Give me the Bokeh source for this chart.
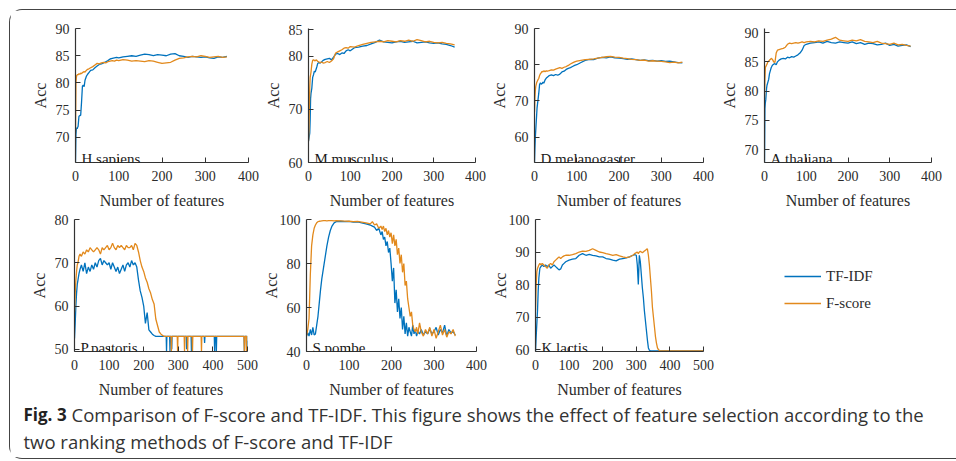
from bokeh.plotting import figure
from bokeh.layouts import row, column
from bokeh.models import Range1d, FixedTicker, Legend, LegendItem, Label
from bokeh.embed import file_html
from bokeh.resources import INLINE

BLUE = "#0072BD"
ORANGE = "#E2891C"
SERIF = "Liberation Serif"
TXT = "#2b2b2b"

# ---------------- data ----------------
grid350 = [0, 1, 2, 3, 4, 5, 6, 8, 10, 12,
           14, 16, 18, 20, 22, 25, 28, 31, 35, 40,
           45, 50, 55, 60, 65, 70, 75, 80, 85, 90,
           95, 100, 110, 120, 130, 140, 150, 160, 170, 180,
           190, 200, 210, 220, 230, 240, 250, 260, 270, 280,
           290, 300, 310, 320, 330, 340, 350]

hs_tfidf = [65.5, 70.5, 71.5, 71.8, 71.6, 71.9, 72.0, 73.9, 74.0, 74.1,
            76.5, 79.4, 79.6, 79.3, 80.5, 81.2, 81.6, 81.9, 82.3, 82.4,
            82.8, 83.1, 83.4, 83.5, 83.7, 83.9, 84.1, 84.4, 84.5, 84.6,
            84.7, 84.6, 84.8, 84.9, 85.0, 84.9, 85.1, 85.3, 85.2, 85.0,
            85.2, 85.1, 85.0, 85.3, 85.4, 85.0, 84.9, 84.7, 84.9, 84.8,
            84.7, 84.8, 84.6, 84.5, 84.8, 84.7, 84.9]
hs_fscore = [71.0, 80.0, 81.0, 81.5, 81.4, 81.6, 81.5, 81.7, 81.6, 81.8,
             81.7, 81.9, 82.0, 82.1, 82.0, 82.3, 82.5, 82.6, 82.8, 83.0,
             83.3, 83.6, 83.5, 83.7, 83.8, 83.7, 83.9, 84.0, 84.1, 84.0,
             84.2, 84.1, 84.3, 84.2, 84.0, 84.1, 84.0, 83.9, 84.1, 84.0,
             83.8, 83.6, 83.7, 83.8, 84.2, 84.5, 84.6, 84.8, 84.9, 84.8,
             85.0, 84.9, 84.7, 84.8, 84.9, 84.7, 84.8]

mm_tfidf = [64.0, 64.5, 65.0, 65.5, 68.0, 72.0, 73.0, 74.0, 76.0, 76.5,
            77.2, 77.0, 77.5, 78.0, 78.6, 78.8, 78.7, 78.9, 79.2, 79.4,
            79.5, 79.6, 79.3, 79.8, 80.4, 80.5, 80.3, 80.6, 80.5, 81.0,
            81.2, 81.0, 81.6, 81.7, 81.9, 82.0, 82.3, 82.6, 83.0, 82.7,
            82.6, 82.5, 82.7, 82.8, 82.6, 82.7, 82.8, 82.5, 82.6, 82.7,
            82.5, 82.4, 82.5, 82.3, 82.2, 82.0, 81.7]
mm_fscore = [64.0, 66.0, 70.0, 74.0, 76.0, 76.5, 77.0, 78.5, 79.2, 79.3,
             79.2, 79.1, 79.3, 79.2, 79.0, 78.9, 78.8, 78.9, 78.7, 78.8,
             79.0, 78.8, 79.1, 79.5, 80.6, 80.8, 81.0, 81.2, 81.5, 81.6,
             81.5, 81.8, 81.7, 82.0, 82.2, 82.4, 82.6, 82.7, 82.8, 82.7,
             82.9, 82.8, 82.7, 82.9, 82.8, 83.0, 82.8, 83.1, 82.9, 82.7,
             82.8, 82.6, 82.5, 82.6, 82.4, 82.3, 82.1]

dm_tfidf = [53.0, 57.0, 60.0, 62.0, 64.0, 66.0, 68.0, 70.0, 72.0, 74.5,
            75.0, 74.6, 74.8, 75.2, 74.9, 75.8, 76.3, 76.6, 77.0, 77.2,
            77.0, 77.3, 77.1, 77.4, 78.0, 78.2, 78.7, 79.0, 79.2, 79.5,
            79.8, 80.0, 80.6, 81.2, 81.5, 81.4, 81.8, 82.0, 81.9, 82.2,
            81.9, 81.8, 81.7, 81.5, 81.6, 81.4, 81.2, 81.3, 81.1, 81.2,
            81.0, 81.1, 80.9, 81.0, 80.8, 80.6, 80.5]
dm_fscore = [67.0, 71.0, 73.0, 74.0, 74.5, 75.0, 75.3, 75.8, 76.2, 77.0,
             77.5, 77.8, 78.2, 78.0, 78.3, 78.1, 78.3, 78.2, 78.4, 78.6,
             78.5, 78.8, 79.0, 79.2, 79.0, 79.3, 79.5, 79.8, 80.2, 80.5,
             80.8, 81.0, 81.2, 81.4, 81.5, 81.6, 81.8, 82.0, 82.2, 82.3,
             82.1, 82.0, 81.8, 81.7, 81.5, 81.4, 81.2, 81.3, 81.0, 81.1,
             81.0, 80.9, 80.8, 80.6, 80.7, 80.5, 80.7]

at_tfidf = [67.8, 77.0, 78.0, 78.5, 79.5, 80.5, 81.0, 81.5, 82.0, 83.0,
            83.5, 84.0, 84.3, 84.5, 84.6, 84.7, 84.5, 85.0, 85.3, 85.5,
            85.6, 85.5, 85.8, 85.7, 85.9, 85.8, 86.0, 86.2, 86.5, 87.0,
            87.8, 88.0, 88.2, 88.3, 88.4, 88.2, 88.5, 88.3, 88.2, 88.4,
            88.3, 88.2, 88.4, 88.1, 88.3, 88.0, 88.2, 88.1, 87.9, 88.0,
            88.2, 87.8, 88.0, 87.7, 87.8, 87.9, 87.6]
at_fscore = [79.0, 82.0, 84.0, 84.2, 84.3, 84.5, 84.6, 85.0, 85.1, 85.3,
             85.4, 85.6, 85.5, 85.3, 85.0, 84.9, 86.5, 87.0, 87.1, 87.2,
             87.3, 87.5, 88.0, 88.2, 88.1, 88.2, 88.3, 88.2, 88.3, 88.4,
             88.3, 88.4, 88.5, 88.4, 88.6, 88.5, 88.7, 88.9, 89.2, 88.7,
             88.6, 88.5, 88.7, 88.6, 88.8, 88.5, 88.4, 88.3, 88.5, 88.2,
             88.1, 88.0, 88.2, 87.9, 88.0, 87.8, 87.7]

# P.pastoris (up to 500 features)
pp_grid = [0, 2, 4, 6, 8, 10, 13, 16, 20, 25,
           30, 35, 40, 45, 50, 55, 60, 65, 70, 75,
           80, 85, 90, 95, 100, 105, 110, 115, 120, 125,
           130, 135, 140, 145, 150, 155, 160, 165, 170, 175,
           180, 185, 190, 195, 200, 205, 210, 215, 220, 225,
           230, 235, 240, 245, 250, 255, 260]
pp_tfidf_head = [52.5, 56.0, 60.0, 63.0, 65.0, 66.0, 67.5, 68.5, 69.5, 68.0,
                 70.0, 67.5, 69.0, 68.0, 69.5, 68.5, 70.0, 69.0, 70.5, 71.0,
                 69.5, 70.5, 70.0, 69.5, 70.0, 68.5, 70.0, 69.0, 68.0, 69.0,
                 67.5, 68.5, 69.5, 68.0, 69.5, 70.0, 69.0, 70.5, 69.5, 70.0,
                 69.0, 66.0, 63.5, 62.0, 60.0, 56.0, 58.5, 54.5, 54.0, 53.5,
                 53.2, 53.0, 53.0, 53.0, 53.0, 53.0, 53.0]
pp_fscore_head = [58.5, 63.0, 66.0, 68.0, 69.5, 70.0, 71.5, 72.0, 71.5, 72.5,
                  72.0, 73.0, 72.5, 73.5, 73.0, 72.5, 73.0, 73.5, 73.0, 72.0,
                  73.5, 73.0, 73.5, 74.0, 73.0, 73.5, 74.5, 73.5, 73.0, 74.0,
                  73.5, 74.0, 73.5, 73.0, 74.0, 73.5, 73.5, 74.0, 73.0, 74.5,
                  74.0, 72.5, 70.5, 69.0, 68.0, 66.5, 65.5, 64.0, 63.0, 61.5,
                  60.5, 57.0, 55.5, 54.0, 53.5, 53.2, 53.0]
pp_tfidf_tail_x = [262, 265, 266, 267, 275, 276, 277, 280, 281, 282,
                   300, 323, 324, 325, 337, 338, 339, 375, 376, 377,
                   404, 405, 406, 409, 410, 411, 450, 490, 491, 492,
                   498, 499, 500]
pp_tfidf_tail_y = [53.0, 53.0, 49.5, 53.0, 53.0, 49.5, 53.0, 53.0, 50.0, 53.0,
                   53.0, 53.0, 50.0, 53.0, 53.0, 49.5, 53.0, 53.0, 51.5, 53.0,
                   53.0, 49.5, 53.0, 53.0, 49.5, 53.0, 53.0, 53.0, 49.5, 53.0,
                   53.0, 49.5, 52.0]
pp_fscore_tail_x = [265, 270, 279, 280, 281, 297, 298, 299, 317, 318,
                    319, 326, 327, 328, 340, 341, 342, 366, 367, 368,
                    420, 490, 491, 492, 496, 497, 498, 500]
pp_fscore_tail_y = [53.0, 53.0, 53.0, 49.5, 53.0, 53.0, 49.5, 53.0, 53.0, 49.5,
                    53.0, 53.0, 49.5, 53.0, 53.0, 49.5, 53.0, 53.0, 49.5, 53.0,
                    53.0, 53.0, 49.5, 53.0, 53.0, 49.5, 53.0, 53.0]

# S.pombe
sp_grid = [0, 3, 6, 9, 12, 15, 18, 21, 24, 27,
           30, 33, 36, 40, 44, 48, 52, 56, 60, 65,
           70, 80, 90, 100, 110, 120, 130, 140, 150, 155,
           160, 165, 170, 175, 178, 181, 184, 187, 190, 193,
           196, 199, 202, 205, 208, 211, 214, 217, 220, 223,
           226, 229, 232, 235, 238, 241, 244, 247, 250, 253,
           256, 259, 262, 266, 270, 275, 280, 285, 290, 295,
           300, 305, 310, 315, 320, 325, 330, 335, 340, 345,
           350]
sp_tfidf = [47.0, 48.5, 47.0, 50.0, 47.5, 51.0, 47.5, 48.0, 52.0, 56.0,
            62.0, 68.0, 73.0, 78.0, 83.0, 88.0, 92.0, 95.0, 97.0, 98.5,
            99.0, 99.2, 99.0, 99.1, 98.8, 98.9, 98.5, 98.0, 97.5, 97.0,
            96.5, 95.0, 96.0, 93.0, 94.5, 91.0, 92.0, 88.0, 90.0, 85.0,
            87.0, 80.0, 72.0, 78.0, 62.0, 68.0, 58.0, 64.0, 55.0, 60.0,
            50.0, 56.0, 48.0, 53.0, 47.0, 51.0, 49.0, 47.0, 52.0, 48.0,
            50.0, 47.0, 49.0, 48.0, 50.0, 47.5, 49.0, 48.0, 50.5, 48.0,
            49.0, 51.0, 47.5, 50.0, 48.5, 52.0, 47.0, 50.0, 48.5, 49.0,
            47.5]
sp_fscore = [47.0, 50.0, 55.0, 75.0, 88.0, 93.0, 96.0, 97.5, 98.5, 99.0,
             99.2, 99.3, 99.4, 99.5, 99.5, 99.4, 99.5, 99.5, 99.5, 99.4,
             99.5, 99.4, 99.3, 99.2, 99.0, 99.1, 98.8, 98.5, 98.0, 99.0,
             97.5, 98.0, 96.0, 97.0, 95.5, 97.0, 94.5, 96.0, 93.0, 95.0,
             92.0, 94.0, 89.0, 93.0, 88.0, 91.0, 84.0, 87.0, 80.0, 84.0,
             76.0, 80.0, 70.0, 72.0, 64.0, 60.0, 56.0, 58.0, 52.0, 50.0,
             49.0, 51.0, 48.0, 53.0, 49.0, 47.0, 50.0, 48.0, 51.0, 47.0,
             50.0, 46.0, 49.0, 52.0, 47.5, 50.0, 46.5, 49.0, 48.0, 50.0,
             47.0]

# K.lactis
kl_grid = [0, 2, 4, 6, 8, 10, 13, 16, 20, 25,
           30, 35, 40, 45, 50, 55, 60, 65, 70, 75,
           80, 85, 90, 100, 110, 120, 130, 140, 150, 160,
           170, 180, 190, 200, 210, 220, 230, 240, 250, 260,
           270, 280, 290, 295, 300, 303, 306, 309, 312, 315,
           318, 321, 324, 327, 330, 333, 336, 339, 342, 345,
           348, 351, 354, 357, 360, 363, 366, 370, 380, 400,
           450, 500]
kl_tfidf = [59.4, 64.0, 68.0, 72.0, 78.0, 82.0, 85.0, 85.5, 86.0, 85.5,
            86.0, 85.5, 86.0, 85.0, 85.5, 86.0, 85.5, 85.0, 84.5, 84.8,
            86.0, 86.5, 87.0, 87.5, 87.8, 88.0, 89.0, 89.5, 89.0, 89.3,
            89.0, 88.8, 88.5, 88.5, 88.0, 87.8, 87.5, 87.3, 87.8, 88.0,
            88.2, 88.5, 89.0, 89.2, 89.0, 86.0, 80.0, 89.0, 87.0, 83.0,
            79.0, 76.0, 72.0, 69.0, 66.0, 63.0, 60.5, 59.8, 59.6, 59.6,
            59.6, 59.6, 59.6, 59.6, 59.6, 59.6, 59.6, 59.6, 59.6, 59.6,
            59.6, 59.6]
kl_fscore = [72.0, 80.0, 84.0, 85.0, 85.5, 86.0, 86.5, 86.0, 86.5, 86.0,
             85.5, 85.0, 86.0, 86.5, 86.0, 87.0, 87.5, 88.0, 88.5, 88.0,
             88.5, 88.8, 89.0, 89.0, 89.2, 89.5, 90.0, 90.3, 90.2, 90.5,
             91.0, 90.5, 90.0, 89.8, 89.5, 89.3, 89.0, 89.2, 88.8, 88.5,
             88.3, 88.5, 89.0, 89.5, 89.8, 90.0, 89.5, 90.0, 90.2, 90.0,
             89.8, 90.0, 90.3, 90.5, 90.8, 91.0, 89.0, 86.0, 82.0, 78.0,
             73.0, 70.0, 67.0, 64.0, 62.0, 60.5, 60.0, 59.6, 59.6, 59.6,
             59.6, 59.6]

x_ticks_400 = [0, 100, 200, 300, 400]
x_ticks_500 = [0, 100, 200, 300, 400, 500]
legend_labels = ["TF-IDF", "F-score"]
x_title = "Number of features"
y_title = "Acc"


def panel(w, h, left, right, top, bottom, xr, yr, xticks, yticks, name,
          xt, yt, xf, yf, ytitle_gap):
    p = figure(width=w, height=h, output_backend="svg", toolbar_location=None,
               x_range=Range1d(*xr), y_range=Range1d(*yr),
               min_border_left=left, min_border_right=right,
               min_border_top=top, min_border_bottom=bottom)
    p.grid.visible = False
    p.outline_line_color = None
    p.line(xt, yt, color=BLUE, line_width=1.3)
    p.line(xf, yf, color=ORANGE, line_width=1.3)
    p.xaxis.ticker = FixedTicker(ticks=xticks)
    p.yaxis.ticker = FixedTicker(ticks=yticks)
    p.xaxis.axis_label = x_title
    p.yaxis.axis_label = y_title
    for ax in (p.xaxis[0], p.yaxis[0]):
        ax.axis_line_color = "#333333"
        ax.axis_line_width = 1.2
        ax.major_tick_line_color = "#333333"
        ax.major_tick_in = 5
        ax.major_tick_out = 0
        ax.minor_tick_line_color = None
        ax.major_label_text_font = SERIF
        ax.major_label_text_font_size = "14px"
        ax.major_label_text_color = TXT
        ax.axis_label_text_font = SERIF
        ax.axis_label_text_font_size = "16px"
        ax.axis_label_text_font_style = "normal"
        ax.axis_label_text_color = TXT
    p.xaxis.major_label_standoff = 8
    p.xaxis.axis_label_standoff = 8
    p.yaxis.major_label_standoff = 6
    p.yaxis.axis_label_standoff = ytitle_gap
    p.add_layout(Label(x=6, y=4, x_units="screen", y_units="screen", text=name,
                       text_font=SERIF, text_font_size="15px", text_color="#1a1a1a",
                       text_baseline="alphabetic"))
    return p


# row 1: every figure shares the same top / bottom borders
f1 = panel(251, 201, 65, 13, 18, 49, (0, 400), (65.4, 90), x_ticks_400, [70, 75, 80, 85, 90],
           "H.sapiens", grid350, hs_tfidf, grid350, hs_fscore, 4)
f2 = panel(226, 201, 44, 12, 18, 49, (0, 400), (60, 85.2), x_ticks_400, [60, 70, 80, 85],
           "M.musculus", grid350, mm_tfidf, grid350, mm_fscore, 4)
f3 = panel(230, 201, 44, 14, 18, 49, (0, 400), (53, 90), x_ticks_400, [60, 70, 80, 90],
           "D.melanogaster", grid350, dm_tfidf, grid350, dm_fscore, 4)
f4 = panel(238, 201, 44, 24, 18, 49, (0, 400), (67.8, 90.7), x_ticks_400, [70, 75, 80, 85, 90],
           "A.thaliana", grid350, at_tfidf, grid350, at_fscore, 4)

# row 2
f5 = panel(249, 189, 64, 12, 8, 49, (0, 500), (49.5, 80), x_ticks_500, [50, 60, 70, 80],
           "P.pastoris", pp_grid + pp_tfidf_tail_x, pp_tfidf_head + pp_tfidf_tail_y,
           pp_grid + pp_fscore_tail_x, pp_fscore_head + pp_fscore_tail_y, 4)
f6 = panel(229, 189, 44, 12, 8, 49, (0, 400), (40, 100), x_ticks_400, [40, 60, 80, 100],
           "S.pombe", sp_grid, sp_tfidf, sp_grid, sp_fscore, -3)
f7 = panel(229, 189, 44, 14, 8, 49, (0, 500), (59.4, 100), x_ticks_500, [60, 70, 80, 90, 100],
           "K.lactis", kl_grid, kl_tfidf, kl_grid, kl_fscore, -3)

# legend panel (renderers hidden; only their legend entries are shown)
lg = figure(width=238, height=189, output_backend="svg", toolbar_location=None,
            x_range=Range1d(0, 1), y_range=Range1d(0, 1),
            x_axis_type=None, y_axis_type=None,
            min_border_left=10, min_border_right=10, min_border_top=8, min_border_bottom=49)
lg.grid.visible = False
lg.outline_line_color = None
r_t = lg.line(kl_grid, kl_tfidf, color=BLUE, line_width=1.6, visible=False)
r_f = lg.line(kl_grid, kl_fscore, color=ORANGE, line_width=1.6, visible=False)
legend = Legend(items=[LegendItem(label=legend_labels[0], renderers=[r_t]),
                       LegendItem(label=legend_labels[1], renderers=[r_f])],
                location=(57, 38), padding=0, margin=0, spacing=7,
                glyph_width=37, glyph_height=20, label_height=20, label_standoff=5,
                border_line_color=None, background_fill_alpha=0, click_policy="none",
                label_text_font=SERIF, label_text_font_size="15px", label_text_color=TXT)
lg.add_layout(legend)

# caption panel
cap = figure(width=945, height=57, output_backend="svg", toolbar_location=None,
             x_range=Range1d(0, 1), y_range=Range1d(0, 1),
             x_axis_type=None, y_axis_type=None,
             min_border_left=0, min_border_right=0, min_border_top=0, min_border_bottom=0)
cap.grid.visible = False
cap.outline_line_color = None
cap.add_layout(Label(x=13, y=43, x_units="screen", y_units="screen", text="Fig. 3",
                     text_font="Open Sans", text_font_style="bold", text_font_size="17px",
                     text_color="#222222", text_baseline="alphabetic"))
cap.add_layout(Label(x=61, y=43, x_units="screen", y_units="screen",
                     text="Comparison of F-score and TF-IDF. This figure shows the effect of feature selection according to the",
                     text_font="Open Sans", text_font_size="18.5px", text_color="#333333",
                     text_baseline="alphabetic"))
cap.add_layout(Label(x=13, y=16, x_units="screen", y_units="screen",
                     text="two ranking methods of F-score and TF-IDF",
                     text_font="Open Sans", text_font_size="18.5px", text_color="#333333",
                     text_baseline="alphabetic"))

layout = column(row(f1, f2, f3, f4), row(f5, f6, f7, lg), cap,
                width=947, height=450,
                styles={"border-top": "1.5px solid #444", "border-left": "1.5px solid #444",
                        "border-bottom": "1.5px solid #444",
                        "border-radius": "13px 0 0 13px",
                        "margin-left": "9px", "margin-top": "9px"})

open("out.html", "w").write(file_html(layout, INLINE))
